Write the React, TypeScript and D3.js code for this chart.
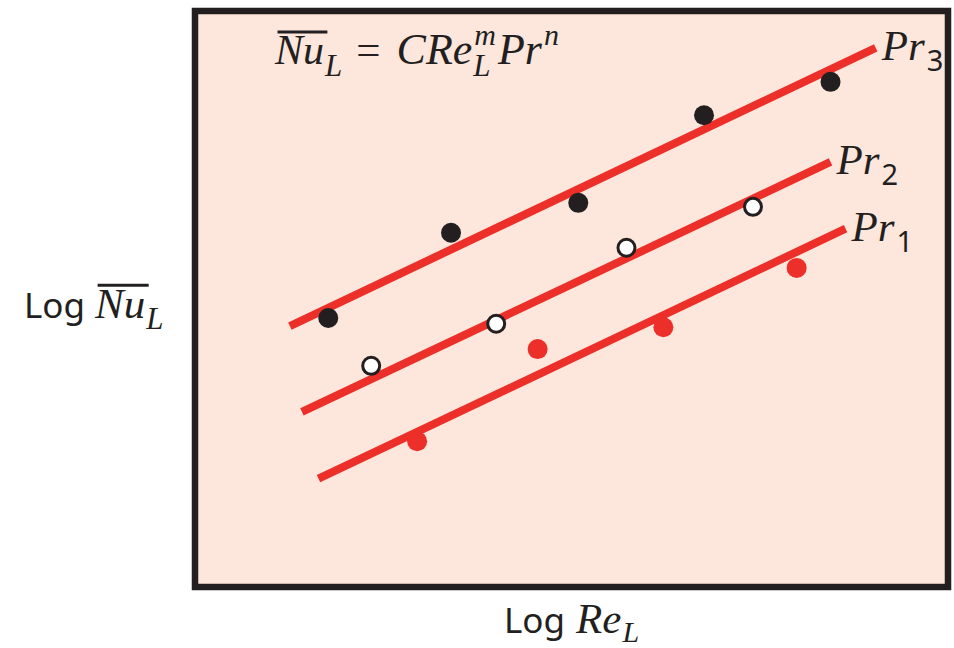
import * as d3 from 'd3';
import React, { useEffect, useRef } from 'react';

// log Re_L, log Nu_L in arbitrary units (0..10 across the box)
const seriesNames = ['Pr1', 'Pr2', 'Pr3'];
const fitLines: number[][][] = [
    [[1.64, 1.88], [8.64, 6.22]],
    [[1.42, 3.04], [8.44, 7.38]],
    [[1.26, 4.53], [9.04, 9.36]],
];
const pr1Points: number[][] = [[2.95, 2.53], [4.55, 4.13], [6.22, 4.51], [7.99, 5.54]];
const pr2Points: number[][] = [[2.34, 3.84], [4.00, 4.57], [5.73, 5.89], [7.41, 6.60]];
const pr3Points: number[][] = [[1.77, 4.67], [3.40, 6.15], [5.09, 6.67], [6.76, 8.19], [8.44, 8.77]];
const labelSubs = ['1', '2', '3'];

const SERIF = '"Liberation Serif", "Times New Roman", serif';
const SANS = '"Noto Sans", "Open Sans", sans-serif';

type Part = { t: string; font: string; size: number; italic?: boolean; dy?: number; over?: boolean; stack?: boolean; gap?: number };

function rich(g: any, x: number, y: number, parts: Part[]) {
    let cx = x;
    parts.forEach((p) => {
        cx += p.gap || 0;
        const t = g.append('text')
            .attr('x', cx)
            .attr('y', y + (p.dy || 0))
            .attr('font-family', p.font)
            .attr('font-size', p.size)
            .attr('font-style', p.italic ? 'italic' : 'normal')
            .attr('fill', '#231f20')
            .text(p.t);
        const w = (t.node() as SVGTextElement).getComputedTextLength();
        if (p.over) {
            g.append('line')
                .attr('x1', cx + p.size * 0.06).attr('x2', cx + w + p.size * 0.08)
                .attr('y1', y - p.size * 0.76).attr('y2', y - p.size * 0.76)
                .attr('stroke', '#231f20').attr('stroke-width', 3);
        }
        if (!p.stack) cx += w;
    });
}

export default function App() {
    const ref = useRef<SVGSVGElement>(null);

    useEffect(() => {
        const width = 954;
        const height = 648;
        const box = { left: 195, right: 948, top: 11, bottom: 587 };

        const svg = d3.select(ref.current).attr('width', width).attr('height', height);
        svg.selectAll('*').remove();

        const xScale = d3.scaleLinear().domain([0, 10]).range([box.left, box.right]);
        const yScale = d3.scaleLinear().domain([0, 10]).range([box.bottom, box.top]);

        svg.append('rect').attr('width', width).attr('height', height).attr('fill', '#ffffff');

        //frame
        svg.append('rect')
            .attr('x', box.left).attr('y', box.top)
            .attr('width', box.right - box.left).attr('height', box.bottom - box.top)
            .attr('fill', '#fde6dc')
            .attr('stroke', '#231f20')
            .attr('stroke-width', 6.5);

        const red = '#ec2f28';
        const line = d3.line<number[]>().x((d) => xScale(d[0])).y((d) => yScale(d[1]));

        svg.selectAll('.fit').data(fitLines).join('path')
            .attr('class', 'fit')
            .attr('d', (d) => line(d))
            .attr('fill', 'none')
            .attr('stroke', red)
            .attr('stroke-width', 8);

        svg.selectAll('.p1').data(pr1Points).join('circle')
            .attr('class', 'p1')
            .attr('cx', (d) => xScale(d[0])).attr('cy', (d) => yScale(d[1]))
            .attr('r', 10).attr('fill', red);

        svg.selectAll('.p2').data(pr2Points).join('circle')
            .attr('class', 'p2')
            .attr('cx', (d) => xScale(d[0])).attr('cy', (d) => yScale(d[1]))
            .attr('r', 8.5).attr('fill', '#ffffff')
            .attr('stroke', '#231f20').attr('stroke-width', 3);

        svg.selectAll('.p3').data(pr3Points).join('circle')
            .attr('class', 'p3')
            .attr('cx', (d) => xScale(d[0])).attr('cy', (d) => yScale(d[1]))
            .attr('r', 10).attr('fill', '#231f20');

        //Pr labels at line ends
        const labels = svg.append('g');
        fitLines.forEach((l, i) => {
            const end = l[1];
            rich(labels, xScale(end[0]) + 6, yScale(end[1]) + 12, [
                { t: 'Pr', font: SERIF, size: 43, italic: true },
                { t: labelSubs[i], font: SANS, size: 29, dy: 11, gap: 2 },
            ]);
        });

        //formula
        const formula = svg.append('g');
        rich(formula, 275, 64, [
            { t: 'Nu', font: SERIF, size: 42, italic: true, over: true },
            { t: 'L', font: SERIF, size: 31, italic: true, dy: 12, gap: 1 },
            { t: '=', font: SERIF, size: 43, gap: 14 },
            { t: 'CRe', font: SERIF, size: 44, italic: true, gap: 16 },
            { t: 'L', font: SERIF, size: 31, italic: true, dy: 12, stack: true, gap: 1 },
            { t: 'm', font: SERIF, size: 30, italic: true, dy: -19, gap: 1 },
            { t: 'Pr', font: SERIF, size: 44, italic: true, gap: 2 },
            { t: 'n', font: SERIF, size: 30, italic: true, dy: -19, gap: 2 },
        ]);

        //axis titles
        const titles = svg.append('g');
        rich(titles, 24, 318, [
            { t: 'Log', font: SANS, size: 35 },
            { t: 'Nu', font: SERIF, size: 43, italic: true, over: true, gap: 10 },
            { t: 'L', font: SERIF, size: 31, italic: true, dy: 11, gap: 1 },
        ]);
        rich(titles, 504, 633, [
            { t: 'Log', font: SANS, size: 35 },
            { t: 'Re', font: SERIF, size: 43, italic: true, gap: 11 },
            { t: 'L', font: SERIF, size: 30, italic: true, dy: 9, gap: 1 },
        ]);
        svg.attr('data-series', seriesNames.join(','));
    });

    return (
        <React.Fragment>
            <svg ref={ref} style={{ position: 'absolute', left: 0, top: 0, display: 'block' }}></svg>
        </React.Fragment>
    );
}
